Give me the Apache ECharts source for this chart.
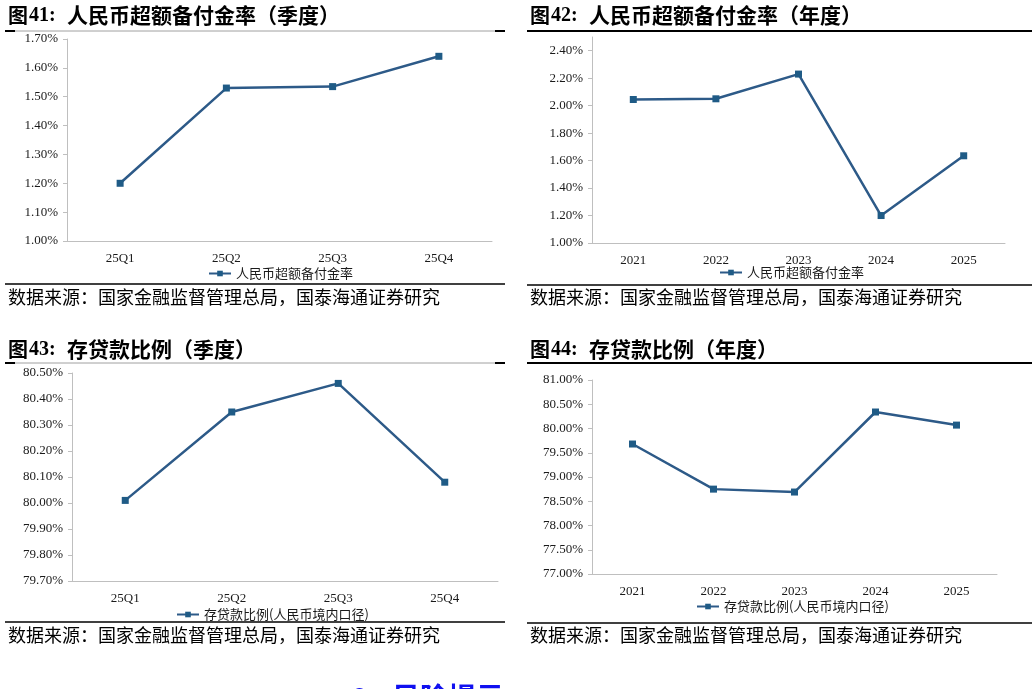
<!DOCTYPE html>
<html><head><meta charset="utf-8">
<script src="https://cdn.jsdelivr.net/npm/echarts@6/dist/echarts.min.js"></script>
<style>html,body{margin:0;padding:0;background:#fff}#c{width:1032px;height:689px}</style>
</head><body><div id="c"></div>
<script>
const quarters = ['25Q1','25Q2','25Q3','25Q4'];
const years = ['2021','2022','2023','2024','2025'];
const excessReserveQ = [1.20, 1.53, 1.535, 1.64];
const excessReserveY = [2.045, 2.05, 2.23, 1.20, 1.635];
const ldrQ = [80.01, 80.35, 80.46, 80.08];
const ldrY = [79.68, 78.75, 78.69, 80.34, 80.07];
const titles = ['人民币超额备付金率（季度）','人民币超额备付金率（年度）','存贷款比例（季度）','存贷款比例（年度）'];
const figNos = ['41','42','43','44'];
const seriesNames = ['人民币超额备付金率','人民币超额备付金率 ','存贷款比例(人民币境内口径)','存贷款比例(人民币境内口径) '];
const sourceText = '数据来源：国家金融监督管理总局，国泰海通证券研究';

const chart = echarts.init(document.getElementById('c'));
const serif = 'Liberation Serif, Times New Roman, serif';
const cjk = 'Noto Sans CJK SC';
const lineColor = '#2d5a88';
const markColor = '#1f5b86';
const axisGray = '#bfbfbf';

const grids = [
  {left:67, top:39, width:425, height:202},
  {left:592, top:37, width:413, height:206},
  {left:72, top:373, width:426, height:208},
  {left:592, top:380, width:405, height:194}
];
const yCfg = [
  {min:1.0, max:1.7, interval:0.1},
  {min:1.0, max:2.5, interval:0.2},
  {min:79.7, max:80.5, interval:0.1},
  {min:77, max:81, interval:0.5}
];
const cats = [quarters, years, quarters, years];
const datas = [excessReserveQ, excessReserveY, ldrQ, ldrY];

const xAxis = cats.map((c,i)=>({
  type:'category', gridIndex:i, data:c, boundaryGap:true,
  axisLine:{show:true, lineStyle:{color:axisGray, width:1}},
  axisTick:{show:false},
  axisLabel:{fontFamily:serif, fontSize:13, color:'#1a1a1a', margin:11}
}));
const yAxis = yCfg.map((y,i)=>({
  type:'value', gridIndex:i, min:y.min, max:y.max, interval:y.interval,
  axisLine:{show:true, lineStyle:{color:axisGray, width:1}},
  axisTick:{show:true, length:4, lineStyle:{color:axisGray}},
  splitLine:{show:false},
  axisLabel:{fontFamily:serif, fontSize:13, color:'#1a1a1a', margin:9,
    showMaxLabel: i===1 ? false : true,
    formatter:v=>Number(v).toFixed(2)+'%'}
}));
const series = datas.map((d,i)=>({
  name:seriesNames[i], type:'line', xAxisIndex:i, yAxisIndex:i, data:d,
  symbol:'rect', symbolSize:7, showSymbol:true,
  lineStyle:{color:lineColor, width:2.5},
  itemStyle:{color:markColor}
}));
const legendPos = [{x:203,y:262},{x:714,y:261},{x:171,y:603},{x:691,y:595}];
const legend = seriesNames.map((n,i)=>({
  data:[n], left:legendPos[i].x, top:legendPos[i].y, itemWidth:22, itemHeight:7, itemGap:2,
  textStyle:{fontFamily:cjk, fontSize:13, color:'#1a1a1a'}, selectedMode:false
}));

const graphic = [];
const panels = [{x:8, ty:16, ln:31, lx:5, lw:500, black:false, by:284, sy:299},
                {x:530, ty:16, ln:31, lx:527, lw:505, black:true, by:285, sy:299},
                {x:8, ty:350, ln:363, lx:5, lw:500, black:false, by:622, sy:637},
                {x:530, ty:350, ln:363, lx:527, lw:505, black:true, by:623, sy:637}];
panels.forEach((p,i)=>{
  graphic.push({type:'text', left:p.x, top:p.ty-11, style:{text:'图', font:'bold 20px '+cjk, fill:'#000'}});
  graphic.push({type:'text', left:p.x+21, top:p.ty-10, style:{text:figNos[i]+':', font:'bold 20px '+serif, fill:'#000'}});
  graphic.push({type:'text', left:p.x+59, top:p.ty-11, style:{text:titles[i], font:'bold 21px '+cjk, fill:'#000'}});
  if(p.black){
    graphic.push({type:'line', shape:{x1:p.lx,y1:p.ln,x2:p.lx+p.lw,y2:p.ln}, style:{stroke:'#000', lineWidth:2}});
  } else {
    graphic.push({type:'line', shape:{x1:p.lx,y1:p.ln,x2:p.lx+p.lw,y2:p.ln}, style:{stroke:'#a0a0a0', lineWidth:1}});
    graphic.push({type:'line', shape:{x1:p.lx,y1:p.ln,x2:p.lx+10,y2:p.ln}, style:{stroke:'#000', lineWidth:2}});
    graphic.push({type:'line', shape:{x1:p.lx+p.lw-10,y1:p.ln,x2:p.lx+p.lw,y2:p.ln}, style:{stroke:'#000', lineWidth:2}});
  }
  graphic.push({type:'line', shape:{x1:p.lx,y1:p.by,x2:p.lx+p.lw,y2:p.by}, style:{stroke:'#000', lineWidth:1.5}});
  graphic.push({type:'text', left:p.x, top:p.sy-11, style:{text:sourceText, font:'18px '+cjk, fill:'#000'}});
});
graphic.push({type:'text', left:350, top:683, style:{text:'6.', font:'bold 28px '+cjk, fill:'#1010f0'}});
graphic.push({type:'text', left:392, top:683, style:{text:'风险提示', font:'bold 28px '+cjk, fill:'#1010f0'}});

chart.setOption({
  animation:false, backgroundColor:'#fff',
  grid:grids, xAxis, yAxis, series, legend, graphic
});
</script></body></html>
